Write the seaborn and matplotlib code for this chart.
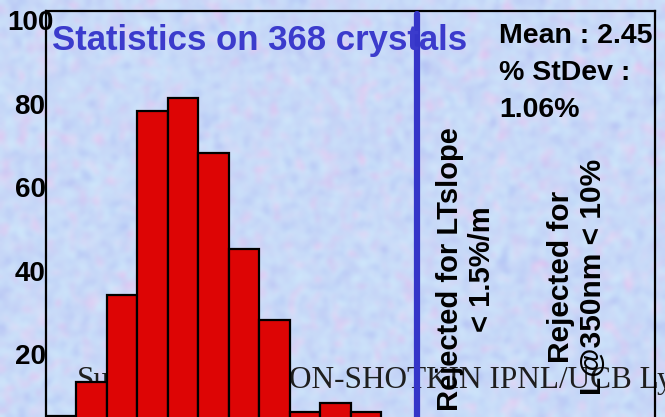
import numpy as np
import pandas as pd
import matplotlib
matplotlib.use("Agg")
import matplotlib.pyplot as plt
import seaborn as sns

# Histogram of the crystal measurement (counts per bin)
bin_index = [0, 1, 2, 3, 4, 5, 6, 7, 8, 9, 10]
counts = [6, 14, 35, 79, 82, 69, 46, 29, 7, 9, 7]
n_bins_axis = 20
cut_position = 12.2  # rejection cut, in bin units

y_ticks = [20, 40, 60, 80, 100]
title_text = "Statistics on 368 crystals"
stats_lines = ["Mean : 2.45", "% StDev :", "1.06%"]
reject_slope = "Rejected for LTslope\n< 1.5%/m"
reject_lt = "Rejected for\nL@350nm < 10%"
footer_left = "Su"
footer_right = "ON-SHOTKIN IPNL/UCB Lyon"

sns.set_theme(style="white")
plt.rcParams["font.family"] = ["Liberation Sans", "DejaVu Sans"]

W, H, DPI = 665, 417, 100
fig = plt.figure(figsize=(W / DPI, H / DPI), dpi=DPI)

# mottled light-blue backdrop
bg = fig.add_axes([0, 0, 1, 1], zorder=-10)
rng = np.random.default_rng(7)
def smooth_noise(h, w, k):
    a = rng.random((h, w))
    for _ in range(k):
        a = (a + np.roll(a, 1, 0) + np.roll(a, -1, 0) + np.roll(a, 1, 1) + np.roll(a, -1, 1)) / 5
    a = (a - a.min()) / (a.max() - a.min())
    return a
gh, gw = 150, 240
n1 = smooth_noise(gh, gw, 2)
n2 = smooth_noise(gh, gw, 3)
base = np.array([200, 218, 248]) / 255
cyan = np.array([208, 236, 252]) / 255
lav = np.array([226, 202, 242]) / 255
blu = np.array([176, 192, 244]) / 255
img = base[None, None, :] * np.ones((gh, gw, 3))
img = img + (cyan - base) * (n1[..., None] - 0.5) * 1.6
img = img + (lav - base) * np.clip(n2[..., None] - 0.55, 0, 1) * 2.2
img = img + (blu - base) * np.clip(0.45 - n2[..., None], 0, 1) * 1.8
img = np.clip(img, 0, 1)
bg.imshow(img, aspect="auto", interpolation="bicubic", extent=[0, 1, 0, 1])
bg.set_axis_off()

# plot area: left 46px, right 655px, top 11px; zero level sits below the image
left_px, right_px, top_px, zero_px = 46, 655, 11, 441
ymax = (zero_px - top_px) / 4.18
ax = fig.add_axes([left_px / W, (H - zero_px) / H, (right_px - left_px) / W,
                   (zero_px - top_px) / H])
ax.set_facecolor("none")

df = pd.DataFrame({"bin": [b + 0.5 for b in bin_index], "count": counts})
sns.barplot(data=df, x="bin", y="count", native_scale=True, width=1.0,
            color="#dd0505", saturation=1, edgecolor="black", linewidth=1.6,
            ax=ax, zorder=3)
ax.set_xlim(0, n_bins_axis)
ax.set_ylim(0, ymax)
ax.set_xlabel("")
ax.set_ylabel("")
ax.set_xticks([])
ax.set_yticks(y_ticks)
ax.set_yticklabels([])
for s in ax.spines.values():
    s.set_color("black")
    s.set_linewidth(1.6)
ax.tick_params(axis="y", length=0)

# y tick labels, centred left of the axis
for v in y_ticks:
    ax.annotate(str(v), xy=(0, v), xycoords=("axes fraction", "data"),
                xytext=(30 - left_px, 0), textcoords="offset pixels",
                ha="center", va="center", fontsize=20, fontweight="bold",
                color="black", annotation_clip=False, zorder=5)

# rejection cut
ax.axvline(cut_position, ymin=0, ymax=(zero_px - 14) / (zero_px - top_px),
           color="#3535c8", linewidth=4.5, zorder=4)

def px(x, y):
    return x / W, 1 - y / H

fig.text(*px(52, 50), title_text, fontsize=25, fontweight="bold",
         color="#3b3bcc", ha="left", va="baseline", zorder=6)

for i, line in enumerate(stats_lines):
    fig.text(*px(499, 43 + 37 * i), line, fontsize=20.5, fontweight="bold",
             color="black", ha="left", va="baseline", zorder=6)

# footer text lies behind the bars
serif = ["Liberation Serif", "DejaVu Serif"]
ax.text(*px(77, 388), footer_left, transform=fig.transFigure,
        fontsize=22.5, family=serif, color="#1e1e1e",
        ha="left", va="baseline", zorder=1)
ax.text(*px(289, 388), footer_right, transform=fig.transFigure,
        fontsize=22.5, family=serif, color="#1e1e1e",
        ha="left", va="baseline", zorder=1)

fig.text(*px(466, 269), reject_slope, rotation=90, fontsize=21,
         fontweight="bold", color="black", ha="center", va="center",
         multialignment="center", linespacing=1.2, zorder=6)
fig.text(*px(577, 277), reject_lt, rotation=90, fontsize=21.5,
         fontweight="bold", color="black", ha="center", va="center",
         multialignment="center", linespacing=1.2, zorder=6)

fig.savefig("out.png", dpi=DPI)
